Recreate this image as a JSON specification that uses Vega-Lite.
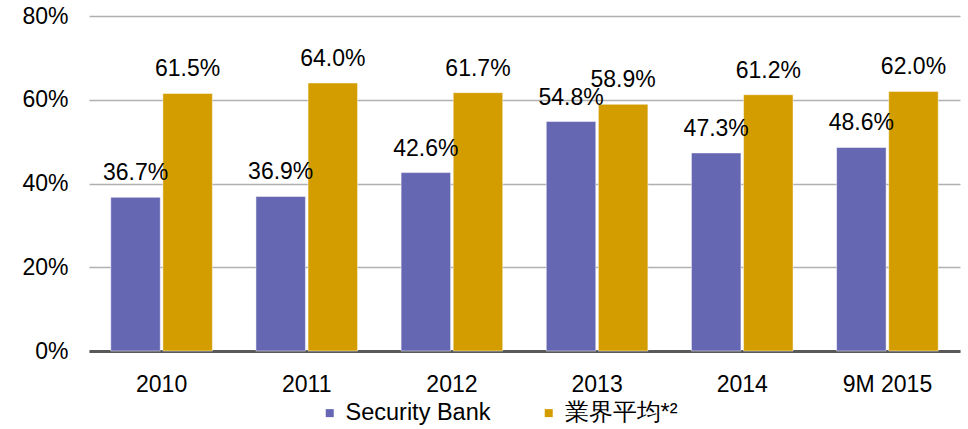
{
  "$schema": "https://vega.github.io/schema/vega-lite/v6.json",
  "autosize": "none",
  "width": 871,
  "height": 335,
  "padding": {"left": 89, "top": 16, "right": 8, "bottom": 78},
  "background": "white",
  "config": {
    "view": {"stroke": null},
    "font": "Liberation Sans",
    "axis": {"labelFont": "Liberation Sans", "labelColor": "#000000", "labelFontSize": 23},
    "legend": {"labelFont": "Liberation Sans", "labelColor": "#000000", "labelFontSize": 23.5}
  },
  "data": {
    "values": [
      {"year": "2010", "series": "Security Bank", "value": 0.367},
      {"year": "2010", "series": "業界平均*²", "value": 0.615},
      {"year": "2011", "series": "Security Bank", "value": 0.369},
      {"year": "2011", "series": "業界平均*²", "value": 0.640},
      {"year": "2012", "series": "Security Bank", "value": 0.426},
      {"year": "2012", "series": "業界平均*²", "value": 0.617},
      {"year": "2013", "series": "Security Bank", "value": 0.548},
      {"year": "2013", "series": "業界平均*²", "value": 0.589},
      {"year": "2014", "series": "Security Bank", "value": 0.473},
      {"year": "2014", "series": "業界平均*²", "value": 0.612},
      {"year": "9M 2015", "series": "Security Bank", "value": 0.486},
      {"year": "9M 2015", "series": "業界平均*²", "value": 0.620}
    ]
  },
  "encoding": {
    "x": {
      "field": "year", "type": "nominal", "sort": null,
      "scale": {"paddingInner": 0.3, "paddingOuter": 0.15},
      "axis": {"title": null, "labelAngle": 0, "ticks": false, "labelPadding": 22, "domainColor": "#595959", "domainWidth": 3, "grid": false}
    },
    "xOffset": {"field": "series", "type": "nominal", "sort": null, "scale": {"paddingInner": 0.05}},
    "y": {
      "field": "value", "type": "quantitative",
      "scale": {"domain": [0, 0.8], "nice": false},
      "axis": {"title": null, "values": [0, 0.2, 0.4, 0.6, 0.8], "format": ".0%", "domain": false, "ticks": false, "labelPadding": 21, "gridColor": "#b0b0b0", "gridWidth": 1.3}
    }
  },
  "layer": [
    {
      "mark": {"type": "bar", "stroke": "#ffffff", "strokeWidth": 0.8, "strokeOpacity": 0.6},
      "encoding": {
        "color": {
          "field": "series", "type": "nominal", "sort": null,
          "scale": {"domain": ["Security Bank", "業界平均*²"], "range": ["#6667b3", "#d39d00"]},
          "legend": {"title": null, "orient": "none", "legendX": 229, "legendY": 385, "direction": "horizontal", "symbolType": "square", "symbolSize": 64, "symbolStrokeWidth": 0, "labelOffset": 4, "columnPadding": 46}
        }
      }
    },
    {
      "mark": {"type": "text", "baseline": "alphabetic", "dy": -17, "fontSize": 23, "color": "#000000", "font": "Liberation Sans"},
      "encoding": {
        "text": {"field": "value", "type": "quantitative", "format": ".1%"}
      }
    }
  ]
}
